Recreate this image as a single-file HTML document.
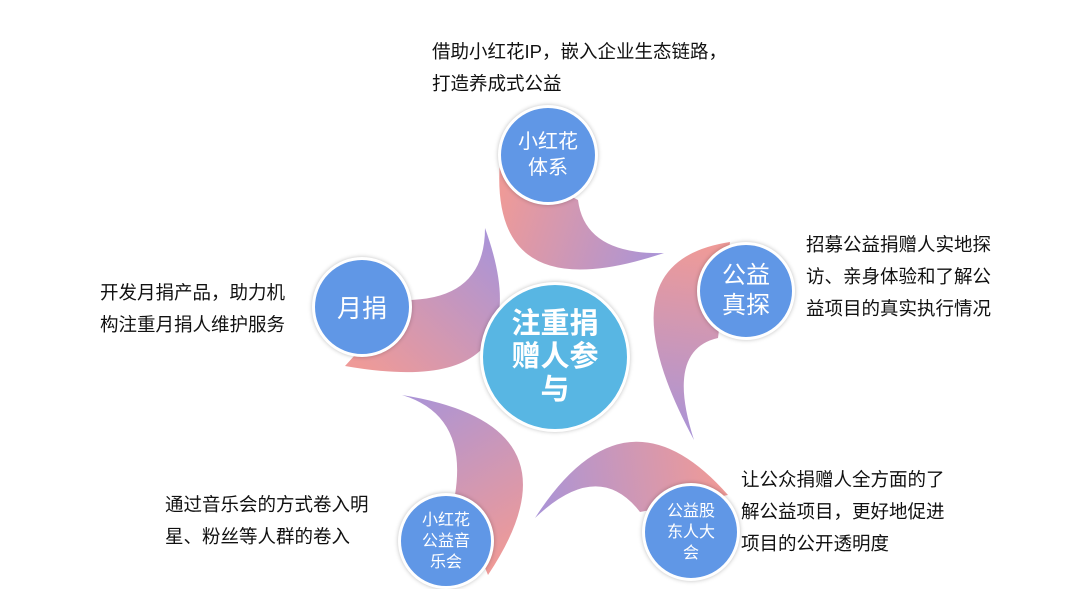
<!DOCTYPE html>
<html><head><meta charset="utf-8"><style>
html,body{margin:0;padding:0;background:#fff;}
body{width:1080px;height:588px;position:relative;overflow:hidden;font-family:"Liberation Sans","Noto Sans CJK SC",sans-serif;}
.t{position:absolute;font-size:18.5px;line-height:32px;color:#111;white-space:nowrap;}
.c{position:absolute;border-radius:50%;background:#6097e6;border:3px solid #fff;box-shadow:0 0 4px rgba(0,0,0,0.25);color:#fff;display:flex;align-items:center;justify-content:center;text-align:center;}
</style></head><body>
<svg width="1080" height="588" style="position:absolute;left:0;top:0">
<defs>
<linearGradient id="g1" gradientUnits="userSpaceOnUse" x1="500" y1="200" x2="664" y2="253"><stop offset="0" stop-color="#ee9a98"/><stop offset="1" stop-color="#a994d8"/></linearGradient>
<linearGradient id="g2" gradientUnits="userSpaceOnUse" x1="720" y1="250" x2="694" y2="440"><stop offset="0" stop-color="#ee9a98"/><stop offset="1" stop-color="#a994d8"/></linearGradient>
<linearGradient id="g3" gradientUnits="userSpaceOnUse" x1="720" y1="490" x2="535" y2="518"><stop offset="0" stop-color="#ee9a98"/><stop offset="1" stop-color="#a994d8"/></linearGradient>
<linearGradient id="g4" gradientUnits="userSpaceOnUse" x1="500" y1="560" x2="402" y2="395"><stop offset="0" stop-color="#ee9a98"/><stop offset="1" stop-color="#a994d8"/></linearGradient>
<linearGradient id="g5" gradientUnits="userSpaceOnUse" x1="360" y1="365" x2="485" y2="228"><stop offset="0" stop-color="#ee9a98"/><stop offset="1" stop-color="#a994d8"/></linearGradient>
</defs>
<path d="M500,160 Q488,312 664,253 Q585,255 578,200 Z" fill="url(#g1)"/>
<path d="M730,242 Q598,262 694,440 Q665,350 718,338 Z" fill="url(#g2)"/>
<path d="M728,495 Q625,378 535,518 Q598,458 640,512 Z" fill="url(#g3)"/>
<path d="M402,395 Q588,425 488,575 L455,495 Q468,415 402,395 Z" fill="url(#g4)"/>
<path d="M485,228 Q548,402 345,366 L405,300 Q485,300 485,228 Z" fill="url(#g5)"/>
</svg>
<div class="c" style="left:480px;top:282px;width:144px;height:144px;background:#58b6e3;font-size:29px;font-weight:bold;line-height:33px;">注重捐<br>赠人参<br>与</div>
<div class="c" style="left:498px;top:105px;width:94px;height:94px;font-size:20px;line-height:26px;">小红花<br>体系</div>
<div class="c" style="left:697px;top:242px;width:92px;height:92px;font-size:24px;line-height:30px;">公益<br>真探</div>
<div class="c" style="left:312px;top:257px;width:94px;height:94px;font-size:25px;">月捐</div>
<div class="c" style="left:398px;top:493px;width:90px;height:90px;font-size:16px;line-height:21px;">小红花<br>公益音<br>乐会</div>
<div class="c" style="left:642px;top:483px;width:92px;height:92px;font-size:16px;line-height:21px;">公益股<br>东人大<br>会</div>
<div class="t" style="left:432px;top:36px;">借助小红花IP，嵌入企业生态链路，<br>打造养成式公益</div>
<div class="t" style="left:806px;top:229px;">招募公益捐赠人实地探<br>访、亲身体验和了解公<br>益项目的真实执行情况</div>
<div class="t" style="left:100px;top:277px;">开发月捐产品，助力机<br>构注重月捐人维护服务</div>
<div class="t" style="left:165px;top:489px;">通过音乐会的方式卷入明<br>星、粉丝等人群的卷入</div>
<div class="t" style="left:741px;top:464px;">让公众捐赠人全方面的了<br>解公益项目，更好地促进<br>项目的公开透明度</div>
</body></html>
